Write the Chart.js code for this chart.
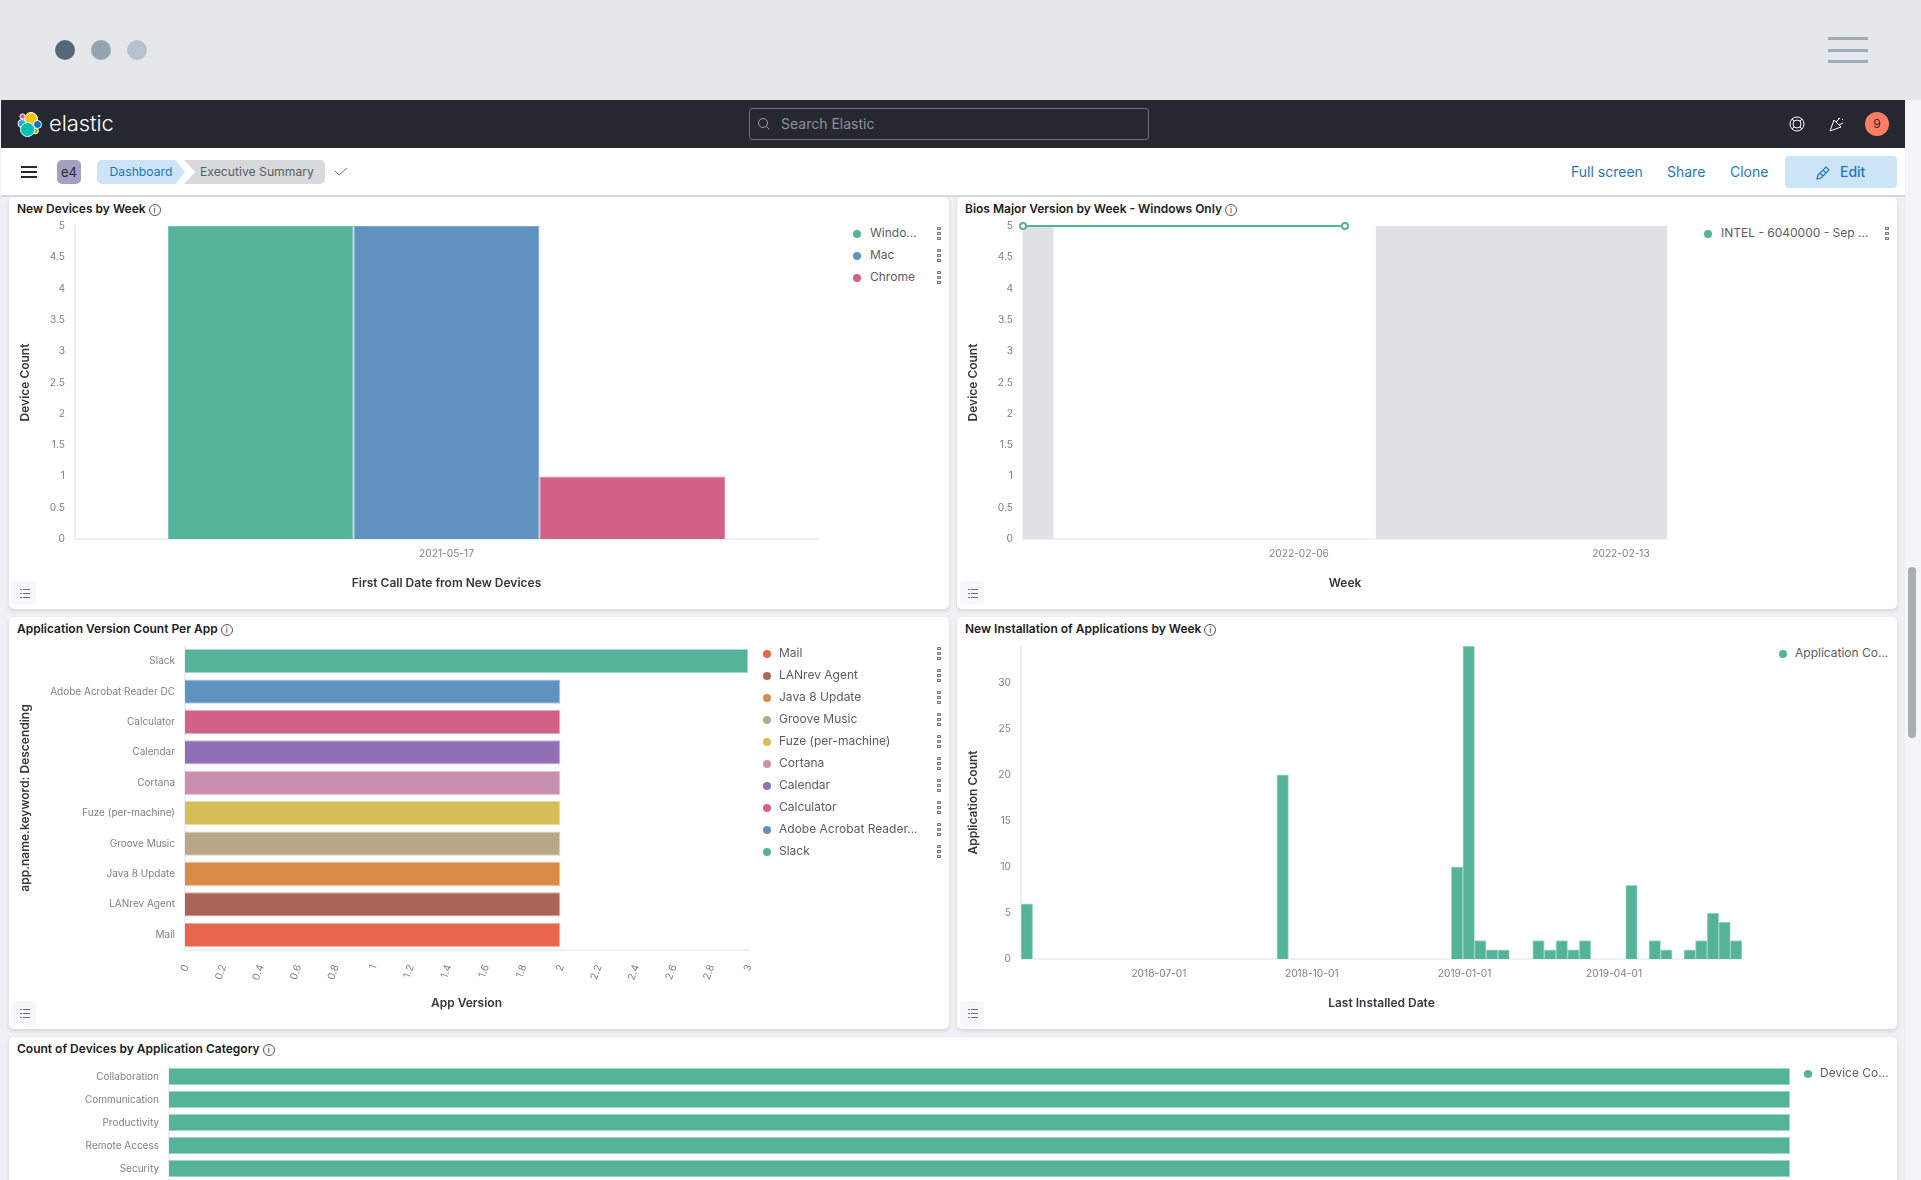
<!DOCTYPE html>
<html>
<head>
<meta charset="utf-8">
<title>Executive Summary - Elastic</title>
<script src="https://cdn.jsdelivr.net/npm/chart.js@4"></script>
<style>
  html, body { margin: 0; padding: 0; width: 1921px; height: 1180px; overflow: hidden; background: #f0f1f4; font-family: Inter, sans-serif; }
  .abs { position: absolute; }
  #chrome { left: 0; top: 0; width: 1921px; height: 100px; background: #e4e8eb; }
  .dot { width: 20px; height: 20px; border-radius: 50%; top: 40px; }
  .burger { left: 1828px; width: 40px; height: 3px; background: #9fabba; }
  #rightStrip { left: 1905px; top: 100px; width: 16px; height: 1080px; background: #f4f5f7; }
  #scroll { left: 1908px; top: 567px; width: 8px; height: 171px; border-radius: 4px; background: #a9adb6; }
  #topbar { left: 1px; top: 100px; width: 1904px; height: 48px; background: #25282f; }
  #logoText { left: 49px; top: 110px; color: #fff; font-size: 22px; font-weight: 300; letter-spacing: -0.1px; }
  #search { left: 749px; top: 108px; width: 398px; height: 30px; border: 1px solid #6d717b; border-radius: 3px; }
  #searchText { left: 781px; top: 115px; color: #8d919b; font-size: 14px; }
  #navbar { left: 1px; top: 148px; width: 1904px; height: 47px; background: #fff; border-bottom: 2px solid #d5d8dc; }
  .navBurger { left: 21px; width: 16px; height: 2px; background: #25282f; }
  #badge { left: 57px; top: 160px; width: 24px; height: 24px; border-radius: 5px; background: #a2a1c2; color: #25282f; font-size: 13px; line-height: 24px; text-align: center; }
  #crumb1 { left: 97px; top: 160px; width: 88px; height: 24px; border-radius: 5px 0 0 5px; background: #cce4f5; color: #1f76b5; font-size: 12.2px; line-height: 24px; text-align: center; clip-path: polygon(0 0, 89% 0, 100% 50%, 89% 100%, 0 100%); }
  #crumb2 { left: 184px; top: 160px; width: 141px; height: 24px; border-radius: 0 5px 5px 0; background: #d8d9dc; color: #585c66; font-size: 12.2px; line-height: 24px; text-indent: 16px; clip-path: polygon(0 0, 100% 0, 100% 100%, 0 100%, 8% 50%); }
  .navLink { top: 163px; color: #1f76c0; font-size: 14px; }
  #editBtn { left: 1785px; top: 156px; width: 112px; height: 32px; border-radius: 4px; background: #cce4f5; }
  #editText { left: 1840px; top: 163px; color: #1f76c0; font-size: 14px; font-weight: 500; }
  #avatar { left: 1865px; top: 112px; width: 24px; height: 24px; border-radius: 50%; background: #ff7e62; color: #25282f; font-size: 12px; line-height: 24px; text-align: center; }
  .panel { background: #fff; border-radius: 5px; box-shadow: 0 2px 4px rgba(0,0,0,.12); }
  .title { color: #1a1c21; font-size: 12px; font-weight: 600; white-space: nowrap; }
  .info { display: inline-block; width: 10px; height: 10px; line-height: 10px; border: 1px solid #555; border-radius: 50%; font-size: 8px; font-weight: 400; text-align: center; margin-left: 3px; vertical-align: 0; }
  .listBtn { width: 24px; height: 24px; background: #f5f7fa; border-radius: 4px; }
  .legendDot { width: 8px; height: 8px; border-radius: 50%; }
  .legendText { color: #585c66; font-size: 12px; white-space: nowrap; line-height: 14px; }
  .kebab { width: 4px; height: 3px; box-sizing: border-box; border: 1px solid #7a7f8a; background: #cfd2d8; }
  canvas { position: absolute; display: block; }
</style>
</head>
<body>
<div id="chrome" class="abs"></div>
<div class="abs dot" style="left:55px;background:#566878"></div>
<div class="abs dot" style="left:91px;background:#94a3b2"></div>
<div class="abs dot" style="left:127px;background:#b6c2cd"></div>
<div class="abs burger" style="top:37px"></div>
<div class="abs burger" style="top:49px"></div>
<div class="abs burger" style="top:60px"></div>

<div id="rightStrip" class="abs"></div>
<div id="scroll" class="abs"></div>

<div id="topbar" class="abs"></div>
<svg class="abs" style="left:16px;top:111px" width="27" height="27" viewBox="0 0 27 27">
  <g stroke="#fff" stroke-width="1">
    <circle cx="15" cy="8" r="6.5" fill="#fec514"/>
    <circle cx="6" cy="12.5" r="4" fill="#1ba9f5"/>
    <circle cx="6.5" cy="5.5" r="2.6" fill="#f04e98"/>
    <circle cx="21.5" cy="13.5" r="4" fill="#0077cc"/>
    <circle cx="19.5" cy="20" r="2.8" fill="#93c90e"/>
    <circle cx="11.5" cy="18.5" r="7" fill="#00bfb3"/>
  </g>
</svg>
<div id="logoText" class="abs">elastic</div>
<div id="search" class="abs"></div>
<svg class="abs" style="left:757px;top:117px" width="14" height="14" viewBox="0 0 14 14" fill="none" stroke="#9a9ea8"><circle cx="6" cy="6" r="4.5"/><path d="M9.5 9.5l3 3"/></svg>
<div id="searchText" class="abs">Search Elastic</div>
<svg class="abs" style="left:1789px;top:116px" width="16" height="16" viewBox="0 0 16 16" fill="none" stroke="#fff"><circle cx="8" cy="8" r="7"/><circle cx="8" cy="8" r="4"/><path d="M3 3l2 2M13 3l-2 2M3 13l2-2M13 13l-2-2"/></svg>
<svg class="abs" style="left:1829px;top:116px" width="16" height="16" viewBox="0 0 16 16" fill="none" stroke="#fff"><path d="M1 15L5 4l7 7zM7 6l4-4M10 9l4-2M9 2l1 1M13 3l1 1"/></svg>
<div id="avatar" class="abs">9</div>

<div id="navbar" class="abs"></div>
<div class="abs navBurger" style="top:166px"></div>
<div class="abs navBurger" style="top:171px"></div>
<div class="abs navBurger" style="top:176px"></div>
<div id="badge" class="abs">e4</div>
<div id="crumb1" class="abs">Dashboard</div>
<div id="crumb2" class="abs">Executive Summary</div>
<svg class="abs" style="left:334px;top:166px" width="14" height="12" viewBox="0 0 14 12" fill="none" stroke="#69707d"><path d="M1 5l4 4 8-7"/></svg>
<div class="abs navLink" style="left:1571px">Full screen</div>
<div class="abs navLink" style="left:1667px">Share</div>
<div class="abs navLink" style="left:1730px">Clone</div>
<div id="editBtn" class="abs"></div>
<svg class="abs" style="left:1816px;top:165px" width="15" height="15" viewBox="0 0 15 15" fill="none" stroke="#1f76c0" stroke-width="1.2"><path d="M1 14l1-4 8-8 3 3-8 8zM4 8l3 3M7 5l3 3"/></svg>
<div id="editText" class="abs">Edit</div>

<div id="panels"></div>

<script>
const palette = ['#54B399', '#6092C0', '#D36086', '#9170B8', '#CA8EAE', '#D6BF57', '#B9A888', '#DA8B45', '#AA6556', '#E7664C'];

// New Devices by Week
const newDeviceDates = ['2021-05-17'];
const newDeviceNames = ['Windows', 'Mac', 'Chrome'];
const newDeviceCounts = [5, 5, 1];
const newDeviceLegend = ['Windo...', 'Mac', 'Chrome'];

// Bios Major Version by Week - Windows Only
const biosDates = ['2022-01-31', '2022-02-07'];
const biosCounts = [5, 5];
const biosTickDates = ['2022-02-06', '2022-02-13'];
const biosRange = ['2022-01-31', '2022-02-14'];
const biosBandOne = ['2022-01-31T00:00Z', '2022-01-31T16:00Z'];
const biosBandTwo = ['2022-02-07T16:00Z', '2022-02-14T00:00Z'];
const biosLegend = ['INTEL - 6040000 - Sep ...'];

// Application Version Count Per App
const appNames = ['Slack', 'Adobe Acrobat Reader DC', 'Calculator', 'Calendar', 'Cortana', 'Fuze (per-machine)', 'Groove Music', 'Java 8 Update', 'LANrev Agent', 'Mail'];
const appVersions = [3, 2, 2, 2, 2, 2, 2, 2, 2, 2];
const appLegend = ['Mail', 'LANrev Agent', 'Java 8 Update', 'Groove Music', 'Fuze (per-machine)', 'Cortana', 'Calendar', 'Calculator', 'Adobe Acrobat Reader...', 'Slack'];
const appLegendColors = ['#E7664C', '#AA6556', '#DA8B45', '#B9A888', '#D6BF57', '#CA8EAE', '#9170B8', '#D36086', '#6092C0', '#54B399'];

// New Installation of Applications by Week
const installWeeks = ['2018-04-09', '2018-09-10', '2018-12-24', '2018-12-31', '2019-01-07', '2019-01-14', '2019-01-21', '2019-02-11', '2019-02-18', '2019-02-25', '2019-03-04', '2019-03-11', '2019-04-08', '2019-04-22', '2019-04-29', '2019-05-13', '2019-05-20', '2019-05-27', '2019-06-03', '2019-06-10'];
const installCounts = [6, 20, 10, 34, 2, 1, 1, 2, 1, 2, 1, 2, 8, 2, 1, 1, 2, 5, 4, 2];
const installRange = ['2018-04-09', '2019-06-17'];
const installTickDates = ['2018-07-01', '2018-10-01', '2019-01-01', '2019-04-01'];
const installTicksY = [0, 5, 10, 15, 20, 25, 30];

// Count of Devices by Application Category
const categoryNames = ['Collaboration', 'Communication', 'Productivity', 'Remote Access', 'Security'];
const categoryCounts = [1, 1, 1, 1, 1];

const halfTicks = [0, 0.5, 1, 1.5, 2, 2.5, 3, 3.5, 4, 4.5, 5];

Chart.defaults.font.family = 'Inter, sans-serif';
Chart.defaults.animation = false;
Chart.defaults.responsive = false;
Chart.defaults.devicePixelRatio = 1;
Chart.defaults.plugins.legend.display = false;
Chart.defaults.plugins.tooltip.enabled = false;

const tickColor = '#7b808b';
const axisLine = '#eef0f3';
const msPerDay = 86400000;
const isoDay = (ms) => new Date(ms).toISOString().slice(0, 10);
const baseTicks = { color: tickColor, font: { size: 10.2 }, padding: 10, autoSkip: false, maxRotation: 0, minRotation: 0 };

function axis(opts) {
  return {
    grid: { display: false, drawTicks: false },
    border: { color: axisLine, width: 2 },
    ...opts,
    ticks: { ...baseTicks, ...opts.ticks },
  };
}

function axisTitle(text, padding) {
  return { display: true, text, color: '#343741', font: { size: 12, weight: '600' }, padding };
}

function setTicks(values) {
  return (scale) => { scale.ticks = values.map((value) => ({ value })); };
}

// pin the axis size and drop the label overhang, so the plot area lands where the panel needs it
function fixWidth(w) {
  return (scale) => { scale.width = w; scale.paddingTop = 0; scale.paddingBottom = 0; };
}
function fixHeight(h) {
  return (scale) => { scale.height = h; scale.paddingLeft = 0; scale.paddingRight = 0; };
}

function addDiv(parent, cls, style, text) {
  const el = document.createElement('div');
  el.className = cls;
  el.style.cssText = style;
  if (text !== undefined) el.textContent = text;
  parent.appendChild(el);
  return el;
}

function addPanel(box, title) {
  const holder = document.getElementById('panels');
  addDiv(holder, 'abs panel', `left:${box.x}px;top:${box.y}px;width:${box.w}px;height:${box.h}px`);
  const t = addDiv(holder, 'abs title', `left:${box.x + 8}px;top:${box.y + 4}px`, title);
  const i = document.createElement('span');
  i.className = 'info';
  i.textContent = 'i';
  t.appendChild(i);
  if (box.h < 200) return;
  const top = box.y + box.h - 28;
  addDiv(holder, 'abs listBtn', `left:${box.x + 3}px;top:${top}px`);
  [8, 12, 16].forEach((dy) => {
    addDiv(holder, 'abs', `left:${box.x + 11}px;top:${top + dy}px;width:2px;height:1px;background:#69707d`);
    addDiv(holder, 'abs', `left:${box.x + 14}px;top:${top + dy}px;width:7px;height:1px;background:#69707d`);
  });
}

function addLegend(items, colors, dotX, textX, firstY, kebabX) {
  const holder = document.getElementById('panels');
  items.forEach((label, i) => {
    const y = firstY + i * 22;
    addDiv(holder, 'abs legendDot', `left:${dotX - 4}px;top:${y - 3}px;background:${colors[i]}`);
    addDiv(holder, 'abs legendText', `left:${textX}px;top:${y - 7}px`, label);
    if (kebabX) {
      [-5, 0, 5].forEach((dy) => {
        addDiv(holder, 'abs kebab', `left:${kebabX - 2}px;top:${y + dy - 1}px`);
      });
    }
  });
}

function addCanvas(left, top, width, height) {
  const c = document.createElement('canvas');
  c.width = width;
  c.height = height;
  c.style.left = left + 'px';
  c.style.top = top + 'px';
  c.style.width = width + 'px';
  c.style.height = height + 'px';
  document.getElementById('panels').appendChild(c);
  return c;
}

// --- panels
addPanel({ x: 9, y: 197, w: 940, h: 412 }, 'New Devices by Week');
addPanel({ x: 957, y: 197, w: 940, h: 412 }, 'Bios Major Version by Week - Windows Only');
addPanel({ x: 9, y: 617, w: 940, h: 412 }, 'Application Version Count Per App');
addPanel({ x: 957, y: 617, w: 940, h: 412 }, 'New Installation of Applications by Week');
addPanel({ x: 9, y: 1037, w: 1888, h: 160 }, 'Count of Devices by Application Category');

// --- New Devices by Week
new Chart(addCanvas(9, 215, 831, 394), {
  type: 'bar',
  data: {
    labels: newDeviceDates,
    datasets: newDeviceNames.map((name, i) => ({
      label: name,
      data: [newDeviceCounts[i]],
      backgroundColor: palette[i],
      borderColor: palette[i] + 'd0',
      borderWidth: 1,
      barPercentage: 1,
      categoryPercentage: 0.75,
    })),
  },
  options: {
    layout: { padding: { top: 11, right: 22 } },
    scales: {
      x: axis({ afterFit: fixHeight(70), title: axisTitle('First Call Date from New Devices', { top: 0, bottom: 18 }), ticks: { padding: 9 } }),
      y: axis({
        min: 0, max: 5, afterBuildTicks: setTicks(halfTicks), afterFit: fixWidth(66),
        title: axisTitle('Device Count', { top: 9, bottom: 0 }),
        ticks: { callback: (v) => String(v) },
      }),
    },
  },
});
addLegend(newDeviceLegend, palette, 857, 870, 233, 939);

// --- Bios Major Version by Week
const biosPoints = biosDates.map((d, i) => ({ x: Date.parse(d), y: biosCounts[i] }));
const bandDataset = (band) => ({
  type: 'line',
  data: band.map((d) => ({ x: Date.parse(d), y: 5 })),
  borderWidth: 0,
  pointRadius: 0,
  backgroundColor: '#e0e1e5',
  fill: 'origin',
});
new Chart(addCanvas(957, 215, 730, 394), {
  type: 'line',
  data: {
    datasets: [
      {
        label: 'INTEL - 6040000 - Sep',
        data: biosPoints,
        borderColor: '#54B399',
        borderWidth: 2,
        backgroundColor: '#fff',
        pointBackgroundColor: '#fff',
        pointBorderColor: '#54B399',
        pointBorderWidth: 2,
        pointRadius: 3,
        clip: false,
      },
      bandDataset(biosBandOne),
      bandDataset(biosBandTwo),
    ],
  },
  options: {
    layout: { padding: { top: 11, right: 20 } },
    scales: {
      x: axis({
        type: 'linear',
        min: Date.parse(biosRange[0]), max: Date.parse(biosRange[1]),
        afterBuildTicks: setTicks(biosTickDates.map((d) => Date.parse(d))),
        afterFit: fixHeight(70),
        title: axisTitle('Week', { top: 0, bottom: 18 }),
        ticks: { padding: 9, callback: (v) => isoDay(v) },
      }),
      y: axis({
        min: 0, max: 5, afterBuildTicks: setTicks(halfTicks), afterFit: fixWidth(66),
        title: axisTitle('Device Count', { top: 9, bottom: 0 }),
        ticks: { callback: (v) => String(v) },
      }),
    },
  },
});
addLegend(biosLegend, palette, 1708, 1721, 233, 1887);

// --- Application Version Count Per App
new Chart(addCanvas(9, 635, 760, 394), {
  type: 'bar',
  data: {
    labels: appNames,
    datasets: [{
      label: 'App Version',
      data: appVersions,
      backgroundColor: palette,
      borderColor: palette.map((c) => c + '80'),
      borderWidth: 1,
      barPercentage: 0.8,
      categoryPercentage: 1,
    }],
  },
  options: {
    indexAxis: 'y',
    layout: { padding: { top: 11, right: 21 } },
    scales: {
      x: axis({
        min: 0, max: 3, afterFit: fixHeight(79),
        title: axisTitle('App Version', { top: 0, bottom: 18 }),
        ticks: { stepSize: 0.2, padding: 13, labelOffset: 1, maxRotation: 70, minRotation: 70, callback: (v) => String(+v.toFixed(1)) },
      }),
      y: axis({
        afterFit: fixWidth(176),
        title: axisTitle('app.name.keyword: Descending', { top: 9, bottom: 0 }),
        ticks: { font: { size: 10 } },
      }),
    },
  },
});
addLegend(appLegend, appLegendColors, 767, 779, 653, 939);

// --- New Installation of Applications by Week
const installPoints = installWeeks.map((d, i) => ({ x: Date.parse(d) + 3.5 * msPerDay, y: installCounts[i] }));
new Chart(addCanvas(957, 635, 800, 394), {
  type: 'bar',
  data: {
    datasets: [{
      label: 'Application Count',
      data: installPoints,
      backgroundColor: palette[0],
      borderColor: palette[0] + '80',
      borderWidth: 1,
      barPercentage: 1,
      categoryPercentage: 1,
    }],
  },
  options: {
    layout: { padding: { top: 11, right: 15 } },
    scales: {
      x: axis({
        type: 'linear', offset: false, grid: { display: false, drawTicks: false, offset: false },
        min: Date.parse(installRange[0]), max: Date.parse(installRange[1]),
        afterBuildTicks: setTicks(installTickDates.map((d) => Date.parse(d))),
        afterFit: fixHeight(70),
        title: axisTitle('Last Installed Date', { top: 0, bottom: 18 }),
        ticks: { padding: 9, callback: (v) => isoDay(v) },
      }),
      y: axis({
        min: 0, max: 34, afterBuildTicks: setTicks(installTicksY), afterFit: fixWidth(64),
        title: axisTitle('Application Count', { top: 9, bottom: 0 }),
        ticks: { callback: (v) => String(v) },
      }),
    },
  },
});
addLegend(['Application Co...'], palette, 1783, 1795, 653);

// --- Count of Devices by Application Category
new Chart(addCanvas(9, 1059, 1800, 121), {
  type: 'bar',
  data: {
    labels: categoryNames,
    datasets: [{
      label: 'Device Count',
      data: categoryCounts,
      backgroundColor: palette[0],
      borderColor: palette[0] + '80',
      borderWidth: 1,
      barPercentage: 0.77,
      categoryPercentage: 1,
    }],
  },
  options: {
    indexAxis: 'y',
    layout: { padding: { top: 6, right: 19 } },
    scales: {
      x: { display: false, min: 0, max: 1 },
      y: axis({ afterFit: fixWidth(160), ticks: { font: { size: 10 } } }),
    },
  },
});
addLegend(['Device Co...'], palette, 1808, 1820, 1073);
</script>
</body>
</html>
